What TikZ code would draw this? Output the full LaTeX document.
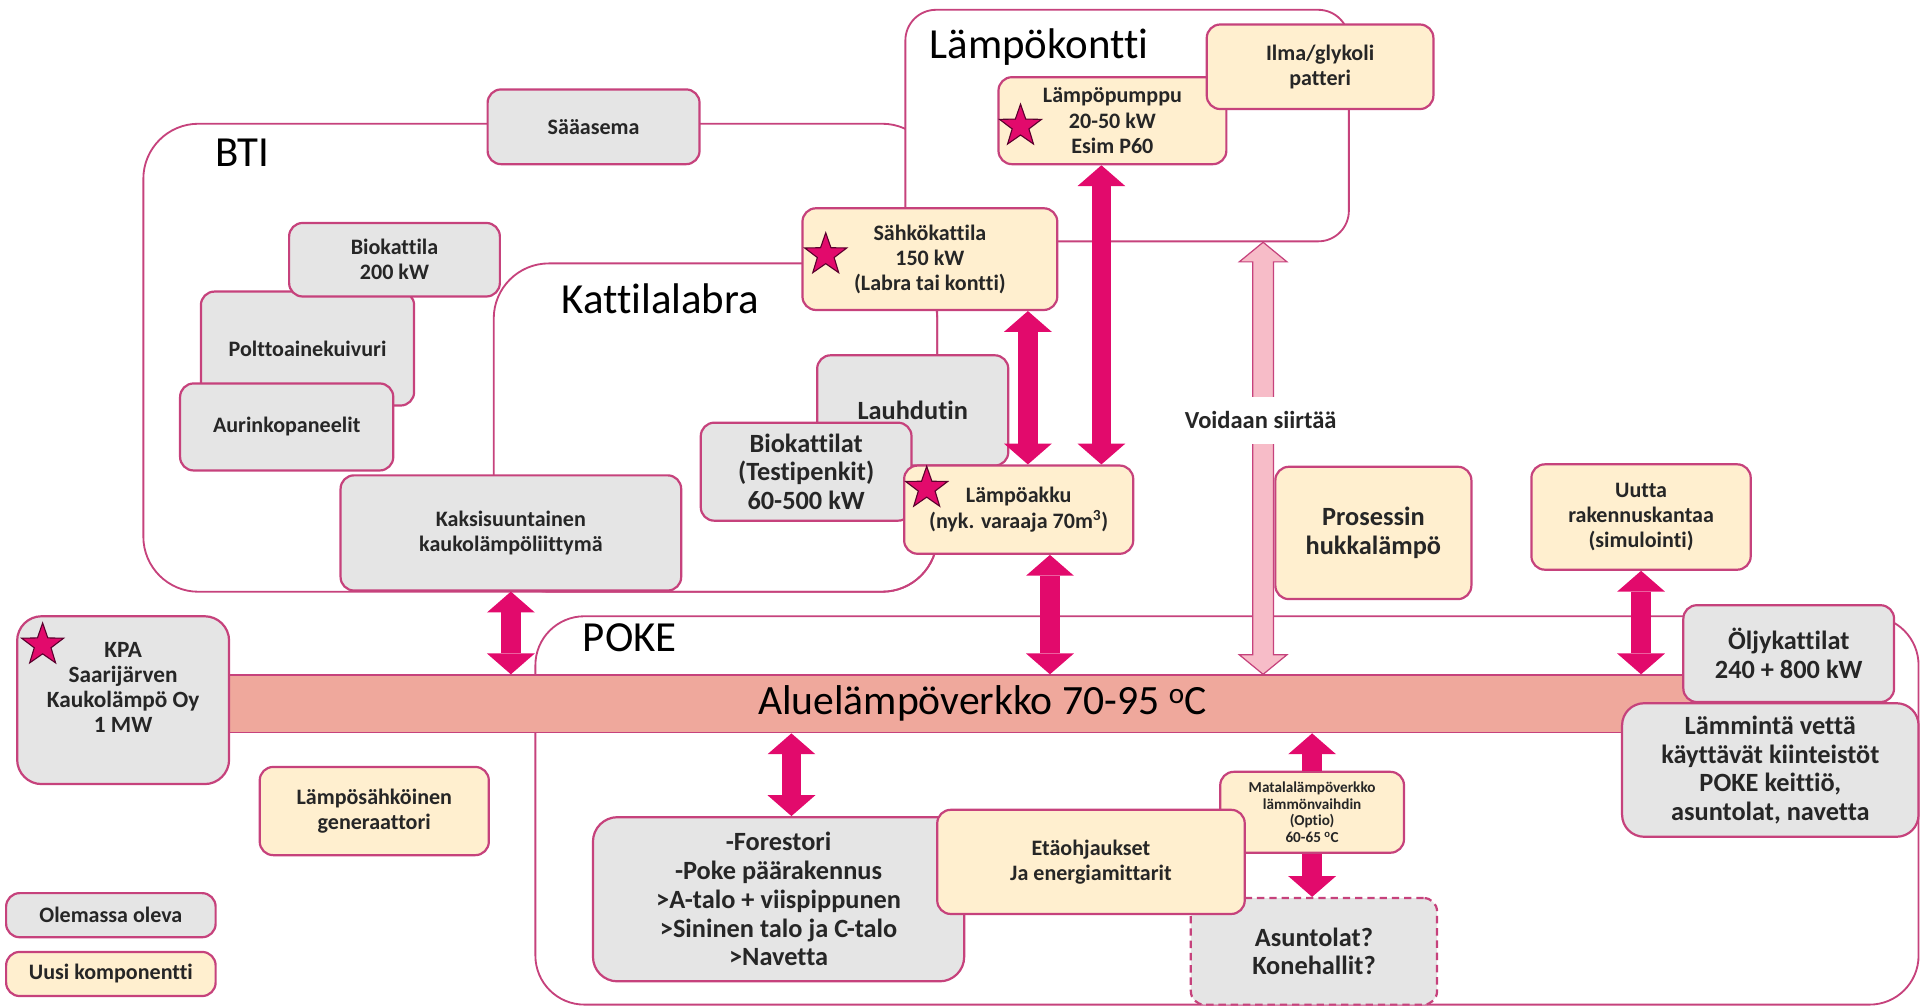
\documentclass[tikz,border=0pt]{standalone}
\usepackage{fontspec}
\setmainfont[Ligatures=NoCommon]{Carlito}
\usetikzlibrary{arrows.meta}
\usetikzlibrary{shapes.geometric}
\usetikzlibrary{calc}
\definecolor{rim}{RGB}{198,66,124}
\definecolor{oldgray}{RGB}{229,229,229}
\definecolor{newcream}{RGB}{255,239,207}
\definecolor{netfill}{RGB}{239,168,156}
\definecolor{flow}{RGB}{226,10,108}
\definecolor{moved}{RGB}{247,188,200}
\definecolor{starrim}{RGB}{90,0,45}
\definecolor{ink}{RGB}{38,38,38}
\tikzset{bighead/.tip = {Triangle[width=39pt,length=17pt,line width=0pt]},
         area/.style = {draw=rim, line width=1.5pt, inner sep=0pt},
         title/.style = {font=\fontsize{35}{40}\selectfont, anchor=base},
         bigtext/.style = {font=\bfseries\fontsize{21.5}{23.5}\selectfont},
         box/.style = {draw=rim, line width=1.8pt, rounded corners=11pt, inner sep=0pt,
                       align=center, text=ink, font=\bfseries\fontsize{18}{20.5}\selectfont},
         old/.style = {box, fill=oldgray},
         new/.style = {box, fill=newcream},
         wh/.style 2 args = {minimum width=#1, minimum height=#2},
         netbar/.style = {fill=netfill, draw=rim, line width=1.2pt, inner sep=0pt,
                          font=\fontsize{34}{40}\selectfont},
         flowline/.style = {draw=flow, line width=16pt, bighead-bighead},
         flowup/.style = {draw=flow, line width=16pt, -bighead},
         movearrow/.style = {fill=moved, draw=rim, line width=1pt},
         starmark/.style = {star, star points=5, star point ratio=2.5, minimum size=36pt,
                            inner sep=0pt, fill=flow, draw=starrim, line width=0.9pt}}
\begin{document}
\begin{tikzpicture}[x=1pt, y=-1pt]
  \useasboundingbox (0,0) rectangle (1568,822);

  \node[area, wh={648pt}{382pt}, rounded corners=45pt] (bti) at (441,292) {};
  \node[area, wh={362pt}{268pt}, rounded corners=45pt] (kattila) at (584,349) {};
  \node[area, fill=white, wh={362pt}{189pt}, rounded corners=25pt] (kontti) at (920,102.5) {};
  \node[area, wh={1129pt}{317pt}, rounded corners=40pt] (poke) at (1001.5,661.5) {};

  \node[title] (btilabel) at (198,136) {BTI};
  \node[title] (kattilalabel) at (539,256) {Kattilalabra};
  \node[title] (konttilabel) at (848,48) {Lämpökontti};
  \node[title] (pokelabel) at (514,532) {POKE};

  \node[netbar, wh={1230pt}{47pt}] (verkko) at (802,574.5) {Aluelämpöverkko 70-95 \textsuperscript{o}C};

  \node[old, wh={173pt}{61pt}] (saa) at (484.5,103.5) {Sääasema};
  \node[old, wh={174pt}{93pt}] (kuivuri) at (251,284.5) {Polttoainekuivuri};
  \node[old, wh={172pt}{60pt}] (bio200) at (322,212) {Biokattila\\200 kW};
  \node[old, wh={174pt}{71pt}] (aurinko) at (234,348.5) {Aurinkopaneelit};
  \node[old, wh={278pt}{94pt}] (kaksi) at (417,435) {Kaksisuuntainen\\kaukolämpöliittymä};
  \node[new, wh={208pt}{83pt}] (sahko) at (759,211.5) {Sähkökattila\\150 kW\\(Labra tai kontti)};
  \node[new, wh={186pt}{71pt}] (pumppu) at (908,98.5) {Lämpöpumppu\\20-50 kW\\Esim P60};
  \node[new, wh={185pt}{69pt}] (ilma) at (1077.5,54.5) {Ilma/glykoli\\patteri};
  \node[old, wh={156pt}{90pt}, bigtext] (lauhd) at (745,335) {Lauhdutin};
  \node[old, wh={172pt}{80pt}, bigtext] (biolab) at (658,385) {Biokattilat\\(Testipenkit)\\60-500 kW};
  \node[new, wh={187pt}{72pt}] (akku) at (831.5,416) {Lämpöakku\\(nyk. varaaja 70m\textsuperscript{3})};
  \node[new, wh={160pt}{108pt}, bigtext] (hukka) at (1121,435) {Prosessin\\hukkalämpö};
  \node[new, wh={179pt}{86pt}] (uutta) at (1339.5,422) {Uutta\\rakennuskantaa\\(simulointi)};
  \node[old, wh={173pt}{137pt}, rounded corners=20pt, font=\bfseries\fontsize{19}{20.5}\selectfont]
    (kpa) at (100.5,571.5) {KPA\\Saarijärven\\Kaukolämpö Oy\\1 MW\\~};
  \node[old, wh={172pt}{79pt}, bigtext] (olj) at (1460,533.5) {Öljykattilat\\240 + 800 kW};
  \node[old, wh={242pt}{109pt}, bigtext, rounded corners=18pt]
    (lammin) at (1445,628.5) {Lämmintä vettä\\käyttävät kiinteistöt\\POKE keittiö,\\asuntolat, navetta};
  \node[new, wh={187pt}{72pt}] (gen) at (305.5,662) {Lämpösähköinen\\generaattori};
  \node[old, wh={303pt}{134pt}, bigtext, rounded corners=20pt]
    (forest) at (635.5,734) {-Forestori\\-Poke päärakennus\\>A-talo + viispippunen\\>Sininen talo ja C-talo\\>Navetta};
  \node[new, wh={150pt}{66pt}, font=\bfseries\fontsize{12.4}{13.6}\selectfont]
    (matala) at (1071,663) {Matalalämpöverkko\\lämmönvaihdin\\(Optio)\\60-65 \textsuperscript{o}C};
  \node[old, wh={201pt}{87pt}, bigtext, dash pattern=on 6pt off 4pt] (asunto) at (1072.5,776.5) {Asuntolat?\\Konehallit?};
  \node[new, wh={251pt}{85pt}] (eta) at (890.5,703.5) {Etäohjaukset\\Ja energiamittarit};
  \node[old, wh={171pt}{36pt}] (olemassa) at (90.5,747) {Olemassa oleva};
  \node[new, wh={171pt}{36pt}] (uusi) at (90.5,795) {Uusi komponentti};

  \coordinate (xb) at (839,0);
  \coordinate (xc) at (899,0);
  \coordinate (xd) at (857,0);
  \coordinate (xe) at (1031,0);
  \coordinate (xg) at (646,0);
  \draw[flowline] (kaksi.south) -- (kaksi.south |- verkko.north);
  \draw[flowline] (sahko.south -| xb) -- (akku.north -| xb);
  \draw[flowline] (pumppu.south -| xc) -- (akku.north -| xc);
  \draw[flowline] (akku.south -| xd) -- (verkko.north -| xd);
  \draw[flowline] (uutta.south) -- (uutta.south |- verkko.north);
  \draw[flowline] (verkko.south -| xg) -- (forest.north -| xg);
  \draw[flowup] (matala.north) -- (matala.north |- verkko.south);
  \draw[flowup] (matala.south) -- (matala.south |- asunto.north);

  \path (kontti.south -| xe) coordinate (mtop) (verkko.north -| xe) coordinate (mbot);
  \draw[movearrow] (mtop) -- ++(19.5,16) -- ++(-11,0) -- ($(mbot)+(8.5,-16)$) -- ++(11,0) -- (mbot)
    -- ++(-19.5,-16) -- ++(11,0) -- ($(mtop)+(-8.5,16)$) -- ++(-11,0) -- cycle;
  \node[fill=white, inner xsep=1pt, inner ysep=12pt, text=ink, font=\bfseries\fontsize{20}{22}\selectfont]
    (siirto) at (1029,343) {Voidaan siirtää};

  \node[starmark] (star1) at (674,208) {};
  \node[starmark] (star2) at (833,103) {};
  \node[starmark] (star3) at (756.4,398.6) {};
  \node[starmark] (star4) at (34.8,526.5) {};
\end{tikzpicture}
\end{document}
